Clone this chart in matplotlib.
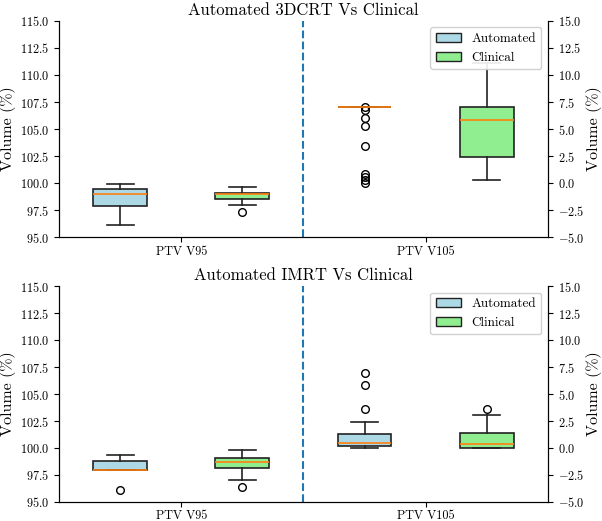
import matplotlib
matplotlib.use("Agg")
import matplotlib.pyplot as plt
from matplotlib.patches import Patch

plt.rcParams["font.family"] = "serif"
plt.rcParams["font.serif"] = ["cmr10", "DejaVu Serif"]
plt.rcParams["mathtext.fontset"] = "cm"
plt.rcParams["axes.formatter.use_mathtext"] = True

# ----- data -----
TITLES = ["Automated 3DCRT Vs Clinical", "Automated IMRT Vs Clinical"]
METRICS = ["PTV V95", "PTV V105"]
GROUPS = ["Automated", "Clinical"]
COLORS = ["lightblue", "lightgreen"]

# 3DCRT panel: V95 on left axis (95-115), V105 on right axis (-5-15)
crt_v95_auto = dict(whislo=96.14, q1=97.89, med=98.97, q3=99.49, whishi=99.95, fliers=[])
crt_v95_clin = dict(whislo=98.02, q1=98.51, med=98.97, q3=99.12, whishi=99.68, fliers=[97.37])
crt_v105_auto = dict(whislo=7.0, q1=7.0, med=7.0, q3=7.0, whishi=7.0,
                     fliers=[7.0, 6.75, 6.0, 5.3, 3.43, 0.85, 0.54, 0.3, 0.05])
crt_v105_clin = dict(whislo=0.3, q1=2.45, med=5.83, q3=7.05, whishi=11.1, fliers=[])

# IMRT panel
imrt_v95_auto = dict(whislo=97.99, q1=97.99, med=97.99, q3=98.76, whishi=99.38, fliers=[96.08])
imrt_v95_clin = dict(whislo=97.0, q1=98.17, med=98.70, q3=99.04, whishi=99.78, fliers=[96.36])
imrt_v105_auto = dict(whislo=0.0, q1=0.15, med=0.49, q3=1.29, whishi=2.43, fliers=[3.63, 5.85, 6.99])
imrt_v105_clin = dict(whislo=0.0, q1=0.02, med=0.39, q3=1.41, whishi=3.04, fliers=[3.63])

PANELS = [
    (crt_v95_auto, crt_v95_clin, crt_v105_auto, crt_v105_clin),
    (imrt_v95_auto, imrt_v95_clin, imrt_v105_auto, imrt_v105_clin),
]


def draw_pair(ax, stats, center):
    for k, (s, c) in enumerate(zip(stats, COLORS)):
        pos = center - 0.25 + 0.5 * k
        ax.bxp([s], positions=[pos], widths=0.22, patch_artist=True,
               showfliers=True, manage_ticks=False,
               boxprops=dict(facecolor=c, edgecolor="#222222", linewidth=1.2),
               whiskerprops=dict(color="#222222", linewidth=1.2),
               capprops=dict(color="#222222", linewidth=1.2),
               medianprops=dict(color="tab:orange", linewidth=1.2),
               flierprops=dict(marker="o", markerfacecolor="none",
                               markeredgecolor="black", markersize=5.5))


fig = plt.figure(figsize=(6.02, 5.21), dpi=100)
boxes = [[0.098, 0.5445, 0.812, 0.4155], [0.098, 0.0365, 0.812, 0.4145]]

for rect, title, (a95, c95, a105, c105) in zip(boxes, TITLES, PANELS):
    ax = fig.add_axes(rect)
    ax2 = ax.twinx()
    draw_pair(ax, [a95, c95], 0)
    draw_pair(ax2, [a105, c105], 1)
    ax.set_xlim(-0.5, 1.5)
    ax.set_ylim(95, 115)
    ax2.set_ylim(-5, 15)
    ax.set_xticks([0, 1])
    ax.set_xticklabels(METRICS)
    ax.tick_params(axis="x", pad=2.5)
    ax.axvline(0.5, color="tab:blue", linestyle="--", linewidth=1.5)
    ax.set_ylabel("Volume (%)", fontsize=11.5, labelpad=3)
    ax2.set_ylabel("Volume (%)", fontsize=11.5, labelpad=1.5)
    ax.set_title(title, fontsize=12, pad=4)
    for a in (ax, ax2):
        a.spines["top"].set_visible(False)
        a.tick_params(labelsize=8.8)
    ax.set_yticks([95 + 2.5 * i for i in range(9)])
    ax2.set_yticks([-5 + 2.5 * i for i in range(9)])
    handles = [Patch(facecolor=c, edgecolor="#222222", label=g) for g, c in zip(GROUPS, COLORS)]
    leg = ax2.legend(handles=handles, loc="upper right", fontsize=9.5, framealpha=0.9,
                     handlelength=1.9)
    leg.set_zorder(10)

fig.savefig("out.png", dpi=100)
